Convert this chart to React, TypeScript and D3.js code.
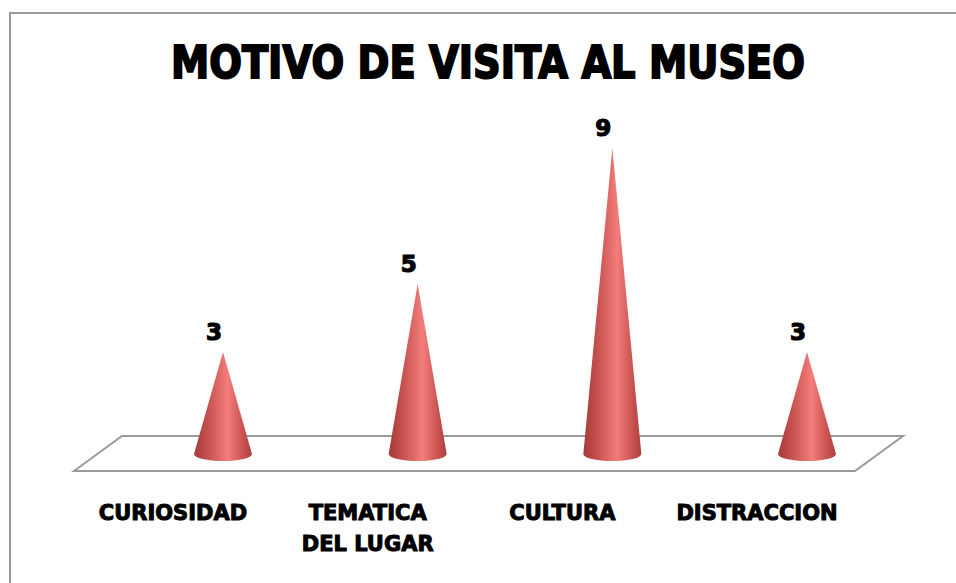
import React, { useEffect, useRef } from "react";
import * as d3 from "d3";

const categories = ["CURIOSIDAD", "TEMATICA\nDEL LUGAR", "CULTURA", "DISTRACCION"];
const values = [3, 5, 9, 3];
const title = "MOTIVO DE VISITA AL MUSEO";

function ConeChart() {
  const ref = useRef<SVGSVGElement>(null);

  useEffect(() => {
    const svg = d3.select(ref.current);
    svg.selectAll("*").remove();

    const width = 956;
    const height = 583;
    const font = "'DejaVu Sans', sans-serif";

    const xscale = d3.scalePoint<string>().domain(categories).range([223, 807]);
    const yscale = d3.scaleLinear().domain([0, 9]).range([454, 148]);

    // gradient for the cones
    const defs = svg.append("defs");
    const grad = defs.append("linearGradient").attr("id", "coneGrad")
      .attr("x1", "0%").attr("x2", "100%").attr("y1", "0%").attr("y2", "0%");
    grad.append("stop").attr("offset", "0%").attr("stop-color", "#a53937");
    grad.append("stop").attr("offset", "30%").attr("stop-color", "#cd5855");
    grad.append("stop").attr("offset", "58%").attr("stop-color", "#f27d7a");
    grad.append("stop").attr("offset", "85%").attr("stop-color", "#c9524f");
    grad.append("stop").attr("offset", "100%").attr("stop-color", "#ab3f3e");

    // chart border
    svg.append("rect")
      .attr("x", 10).attr("y", 13)
      .attr("width", width).attr("height", height)
      .attr("fill", "white")
      .attr("stroke", "#9a9a9a")
      .attr("stroke-width", 2);

    svg.append("text")
      .attr("x", 488).attr("y", 78)
      .attr("text-anchor", "middle")
      .style("font-family", font)
      .style("font-weight", "bold")
      .style("font-size", "44px")
      .style("stroke", "#000")
      .style("stroke-width", 2)
      .attr("textLength", 634)
      .attr("lengthAdjust", "spacingAndGlyphs")
      .text(title);

    // floor
    const y0 = yscale(0);
    const backY = y0 - 18;
    const frontY = y0 + 17;
    const x0 = xscale(categories[0])! - 149;
    const x1 = xscale(categories[categories.length - 1])! + 48;
    const depth = 48;
    svg.append("path")
      .attr("d", `M${x0},${frontY} L${x0 + depth},${backY} L${x1 + depth},${backY} L${x1},${frontY} Z`)
      .attr("fill", "none")
      .attr("stroke", "#9a9a9a")
      .attr("stroke-width", 2);

    const r = 29;
    const ry = 7;
    const g = svg.append("g");
    const cone = g.selectAll("g.cone").data(values).join("g").attr("class", "cone");

    cone.append("path")
      .attr("d", (d, i) => {
        const cx = xscale(categories[i])!;
        const top = yscale(d);
        return `M${cx},${top} L${cx + r},${y0} A${r},${ry} 0 0 1 ${cx - r},${y0} Z`;
      })
      .attr("fill", "url(#coneGrad)");

    cone.append("text")
      .attr("x", (d, i) => xscale(categories[i])! - 9)
      .attr("y", (d) => yscale(d) - 12)
      .attr("text-anchor", "middle")
      .style("font-family", font)
      .style("font-weight", "bold")
      .style("font-size", "23px")
      .style("stroke", "#000")
      .style("stroke-width", 1.2)
      .text((d) => d);

    // category labels, shifted left with the floor's perspective
    const labels = svg.append("g").selectAll("text").data(categories).join("text")
      .attr("x", (d) => xscale(d)! - 50)
      .attr("y", 520)
      .attr("text-anchor", "middle")
      .style("font-family", font)
      .style("font-weight", "bold")
      .style("font-size", "21px")
      .style("stroke", "#000")
      .style("stroke-width", 1);
    labels.each(function (d) {
      const lines = d.split("\n");
      d3.select(this).selectAll("tspan").data(lines).join("tspan")
        .attr("x", xscale(d)! - 50)
        .attr("dy", (_l, j) => (j === 0 ? 0 : 31))
        .text((l) => l);
    });
  }, []);

  return (
    <svg
      ref={ref}
      width={956}
      height={583}
      style={{ position: "absolute", left: 0, top: 0, display: "block" }}
    />
  );
}

export default function App() {
  return <ConeChart />;
}
